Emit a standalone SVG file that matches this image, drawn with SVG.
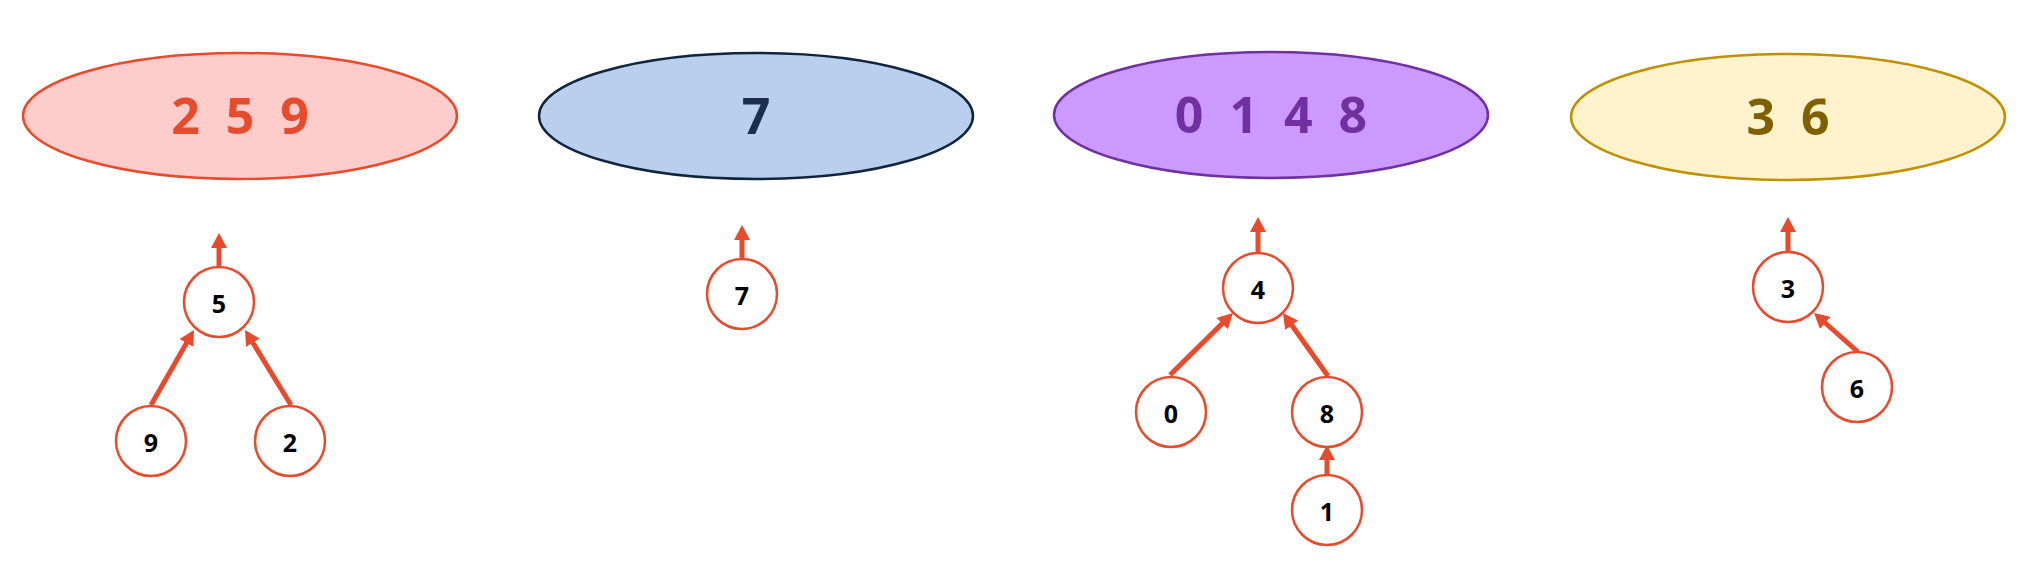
<svg xmlns="http://www.w3.org/2000/svg" width="2036" height="571" viewBox="0 0 2036 571">
<style>
.set{stroke-width:2.5}
.lbl{font-family:"Open Sans","Liberation Sans",sans-serif;font-weight:bold;font-size:50px;text-anchor:middle;white-space:pre}
.node circle{fill:#fff;stroke:#E84A2C;stroke-width:2.5}
.node text{font-family:"Open Sans","Liberation Sans",sans-serif;font-weight:bold;font-size:25px;text-anchor:middle;fill:#000}
.edge{stroke:#E84A2C;stroke-width:5;fill:none;marker-end:url(#ah)}
</style>
<defs>
<marker id="ah" markerUnits="userSpaceOnUse" markerWidth="16" markerHeight="16" viewBox="0 0 16 16" refX="3" refY="8" orient="auto">
<path d="M0,0 L15,8 L0,16 Z" fill="#E84A2C"/>
</marker>
</defs>
<rect width="2036" height="571" fill="#fff"/>
<g id="set-259"><ellipse class="set" cx="240" cy="116" rx="217" ry="63" fill="#FFCCCC" stroke="#E84A2C"/><text class="lbl" x="240" y="134" fill="#E84A2C" xml:space="preserve">2  5  9</text></g>
<g id="set-7"><ellipse class="set" cx="756" cy="116" rx="217" ry="63" fill="#B9CFED" stroke="#10243E"/><text class="lbl" x="756" y="134" fill="#1B2E4D">7</text></g>
<g id="set-0148"><ellipse class="set" cx="1271" cy="115" rx="217" ry="63" fill="#CC99FF" stroke="#7030A0"/><text class="lbl" x="1271" y="133" fill="#7030A0" xml:space="preserve">0  1  4  8</text></g>
<g id="set-36"><ellipse class="set" cx="1788" cy="117" rx="217" ry="63" fill="#FFF2CC" stroke="#BF9000"/><text class="lbl" x="1788" y="135" fill="#7F6000" xml:space="preserve">3  6</text></g>
<g id="connectors">
<line class="edge" x1="219" y1="267" x2="219" y2="245"/>
<line class="edge" x1="151" y1="405" x2="188" y2="340.4"/>
<line class="edge" x1="291" y1="405" x2="251.3" y2="340.2"/>
<line class="edge" x1="742" y1="259" x2="742" y2="237"/>
<line class="edge" x1="1258" y1="252" x2="1258" y2="229"/>
<line class="edge" x1="1170" y1="375" x2="1224.4" y2="321.4"/>
<line class="edge" x1="1328" y1="376" x2="1290" y2="322.8"/>
<line class="edge" x1="1327" y1="475" x2="1327" y2="457"/>
<line class="edge" x1="1788" y1="252" x2="1788" y2="229"/>
<line class="edge" x1="1858" y1="352" x2="1823" y2="321"/>
</g>
<g id="n5" class="node"><circle cx="219" cy="302" r="35"/><text x="219" y="313">5</text></g>
<g id="n9" class="node"><circle cx="151" cy="441" r="35"/><text x="151" y="452">9</text></g>
<g id="n2" class="node"><circle cx="290" cy="441" r="35"/><text x="290" y="452">2</text></g>
<g id="n7" class="node"><circle cx="742" cy="294" r="35"/><text x="742" y="305">7</text></g>
<g id="n4" class="node"><circle cx="1258" cy="288" r="35"/><text x="1258" y="299">4</text></g>
<g id="n0" class="node"><circle cx="1171" cy="412" r="35"/><text x="1171" y="423">0</text></g>
<g id="n8" class="node"><circle cx="1327" cy="412" r="35"/><text x="1327" y="423">8</text></g>
<g id="n1" class="node"><circle cx="1327" cy="510" r="35"/><text x="1327" y="521">1</text></g>
<g id="n3" class="node"><circle cx="1788" cy="287" r="35"/><text x="1788" y="298">3</text></g>
<g id="n6" class="node"><circle cx="1857" cy="387" r="35"/><text x="1857" y="398">6</text></g>
</svg>
